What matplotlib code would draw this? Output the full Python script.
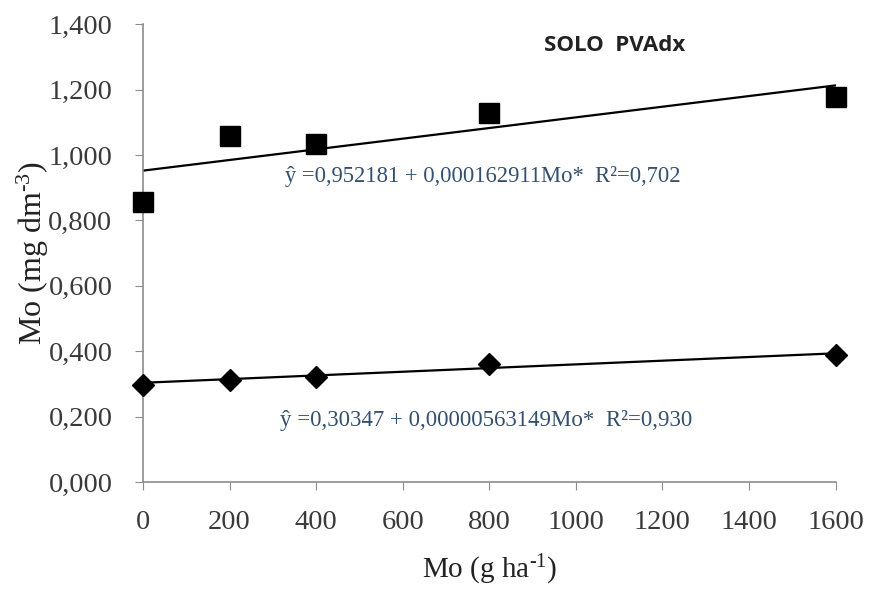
'''
Mo im Boden (SOLO PVAdx) in Abhängigkeit der Mo-Dosis, mit linearen Trendlinien.
'''

import matplotlib
matplotlib.use("Agg")
import matplotlib.pyplot as plt
import numpy as np
from matplotlib.ticker import FuncFormatter

#Daten
dosis = [0, 200, 400, 800, 1600]
mo_oben = [0.855, 1.058, 1.033, 1.128, 1.178]
mo_unten = [0.298, 0.313, 0.322, 0.362, 0.389]

#Regressionskoeffizienten laut Beschriftung
a_oben, b_oben = 0.952181, 0.000162911
a_unten, b_unten = 0.30347, 0.0000563149

titel = "SOLO  PVAdx"
gl_oben = "ŷ =0,952181 + 0,000162911Mo*  R²=0,702"
gl_unten = "ŷ =0,30347 + 0,00000563149Mo*  R²=0,930"

x_ticks = [0, 200, 400, 600, 800, 1000, 1200, 1400, 1600]
y_ticks = [0.0, 0.2, 0.4, 0.6, 0.8, 1.0, 1.2, 1.4]

serif = ["Liberation Serif", "DejaVu Serif"]
grau = "#8c8c8c"
gl_farbe = "#34506e"

#Hochgestellte Zeichen ebenfalls in Serifenschrift
plt.rcParams["mathtext.fontset"] = "custom"
plt.rcParams["mathtext.rm"] = "Liberation Serif"
plt.rcParams["mathtext.it"] = "Liberation Serif:italic"
plt.rcParams["mathtext.default"] = "rm"

fig = plt.figure(figsize=(8.69, 5.90), dpi=100)
ax = fig.add_axes([0.1646, 0.183, 0.797, 0.776])

#Trendlinien
x_lin = np.array([0, 1600])
ax.plot(x_lin, a_oben + b_oben * x_lin, color="black", lw=1.6, zorder=2)
ax.plot(x_lin, a_unten + b_unten * x_lin, color="black", lw=1.6, zorder=2)

#Messpunkte
ax.plot(dosis, mo_oben, ls="none", marker="s", ms=14, color="black",
        clip_on=False, zorder=3)
ax.plot(dosis, mo_unten, ls="none", marker="D", ms=11, color="black",
        clip_on=False, zorder=3)

ax.set_xlim(0, 1600)
ax.set_ylim(0, 1.4)
ax.set_xticks(x_ticks)
ax.set_yticks(y_ticks)
ax.yaxis.set_major_formatter(FuncFormatter(lambda v, p: f"{v:.3f}".replace(".", ",")))

for s in ["top", "right"]:
    ax.spines[s].set_visible(False)
for s in ["left", "bottom"]:
    ax.spines[s].set_color(grau)
    ax.spines[s].set_linewidth(1.2)

ax.tick_params(axis="both", direction="out", length=6, color=grau,
               labelsize=20.5, labelcolor="#3a3a3a")
ax.tick_params(axis="x", pad=14)
ax.tick_params(axis="y", pad=16)
for lab in ax.get_xticklabels() + ax.get_yticklabels():
    lab.set_family(serif)

ax.set_xlabel(r"Mo (g ha$^{\text{-}1}$)", family=serif, fontsize=21, color="#222222",
              labelpad=13)
ax.set_ylabel(r"Mo (mg dm$^{\text{-}3}$)", family=serif, fontsize=23, color="#222222",
              labelpad=-2)

#Titel und Gleichungen
ax.text(1090, 1.335, titel, family=["Open Sans", "DejaVu Sans"], fontweight="bold",
        fontsize=16, color="#222222", ha="center", va="center")
ax.text(329, 0.965, gl_oben, family=serif, fontsize=16.3, color=gl_farbe,
        ha="left", va="top")
ax.text(316, 0.22, gl_unten, family=serif, fontsize=16.5, color=gl_farbe,
        ha="left", va="top")

fig.savefig("out.png", dpi=100)
